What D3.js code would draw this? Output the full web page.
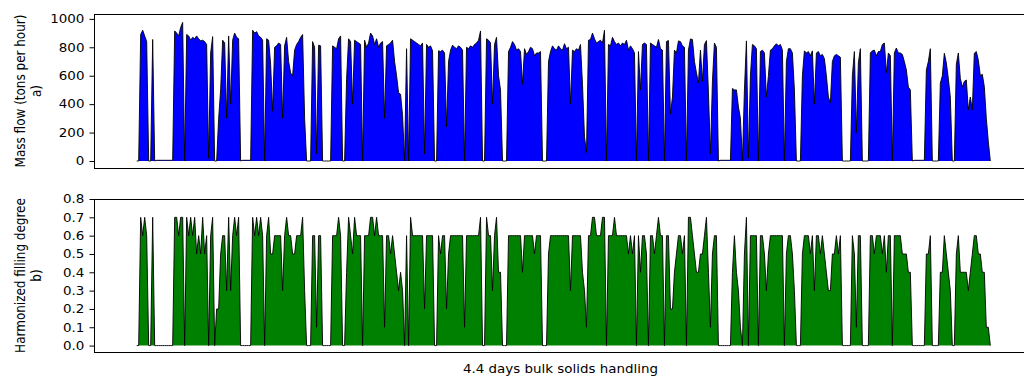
<!doctype html>
<html>
<head>
<meta charset="utf-8">
<title>Mass flow and harmonized filling degree</title>
<script src="https://cdnjs.cloudflare.com/ajax/libs/d3/7.8.5/d3.min.js"></script>
<style>
  body { margin: 0; background: #fff; }
  svg text { font-family: "DejaVu Sans", sans-serif; fill: #000; }
</style>
</head>
<body>
<svg width="1024" height="378"></svg>
<script>
// mass flow (tons per hour), one sample per step over the 4.4 days
var massFlow = [
  0, 0, 890, 920, 880, 840, 0, 0, 855, 0,
  5, 5, 5, 5, 5, 5, 5, 5, 5, 915,
  900, 880, 940, 975, 0, 890, 880, 850, 870, 860,
  880, 860, 845, 850, 840, 820, 20, 760, 875, 0,
  0, 300, 500, 850, 830, 300, 880, 400, 850, 900,
  870, 860, 0, 5, 5, 5, 5, 5, 920, 900,
  910, 880, 870, 850, 0, 860, 850, 680, 350, 800,
  810, 830, 820, 300, 810, 870, 700, 620, 600, 780,
  820, 840, 870, 890, 300, 0, 0, 0, 840, 800,
  50, 815, 810, 0, 0, 0, 0, 0, 810, 800,
  790, 860, 880, 0, 0, 575, 860, 840, 400, 850,
  840, 830, 820, 0, 850, 800, 830, 900, 880, 820,
  860, 800, 830, 840, 300, 810, 820, 830, 850, 700,
  600, 480, 470, 320, 0, 790, 0, 860, 850, 840,
  830, 820, 810, 830, 50, 820, 800, 810, 775, 0,
  0, 775, 770, 780, 760, 240, 700, 780, 815, 800,
  790, 810, 800, 780, 0, 800, 790, 810, 800, 820,
  830, 850, 915, 0, 0, 860, 850, 830, 400, 820,
  870, 600, 500, 0, 0, 0, 770, 800, 840, 820,
  780, 790, 770, 540, 790, 750, 770, 800, 790, 740,
  760, 760, 770, 0, 0, 0, 700, 770, 810, 790,
  780, 810, 790, 780, 825, 790, 800, 400, 780, 770,
  790, 780, 820, 540, 170, 60, 850, 855, 900, 860,
  830, 840, 850, 830, 920, 0, 820, 810, 870, 840,
  820, 830, 810, 830, 820, 850, 780, 810, 790, 760,
  0, 770, 500, 820, 830, 820, 0, 830, 820, 810,
  800, 855, 790, 780, 0, 840, 848, 330, 450, 780,
  760, 845, 840, 810, 800, 0, 780, 859, 855, 700,
  620, 550, 780, 560, 820, 847, 480, 50, 560, 830,
  800, 0, 5, 5, 5, 5, 5, 5, 510, 500,
  500, 380, 300, 0, 500, 845, 20, 600, 820, 810,
  790, 0, 770, 780, 760, 450, 600, 780, 790, 810,
  825, 810, 820, 780, 0, 700, 790, 790, 760, 500,
  0, 0, 0, 600, 775, 760, 770, 740, 775, 400,
  760, 770, 740, 750, 720, 600, 450, 410, 700, 740,
  750, 740, 730, 0, 0, 0, 0, 0, 600, 770,
  200, 690, 790, 0, 0, 0, 0, 760, 775, 780,
  740, 770, 770, 820, 830, 620, 760, 740, 0, 760,
  795, 760, 760, 750, 700, 640, 520, 500, 0, 5,
  5, 5, 5, 5, 5, 640, 700, 790, 0, 0,
  0, 0, 547, 600, 758, 690, 580, 450, 0, 0,
  680, 760, 580, 520, 560, 570, 360, 450, 360, 758,
  770, 710, 600, 610, 523, 300, 136, 0
];

// harmonized filling degree, same samples
var fillDegree = [
  0, 0, 0.7, 0.6, 0.7, 0.6, 0, 0, 0.7, 0,
  0, 0, 0, 0, 0, 0, 0, 0, 0, 0.7,
  0.7, 0.6, 0.7, 0.7, 0, 0.7, 0.6, 0.7, 0.6, 0.7,
  0.5, 0.6, 0.5, 0.7, 0.5, 0.6, 0, 0.6, 0.7, 0,
  0.2, 0.2, 0.5, 0.6, 0.6, 0.3, 0.7, 0.3, 0.6, 0.7,
  0.6, 0.7, 0, 0, 0, 0, 0, 0, 0.7, 0.6,
  0.7, 0.6, 0.7, 0.6, 0, 0.6, 0.7, 0.5, 0.5, 0.6,
  0.6, 0.6, 0.6, 0.3, 0.6, 0.7, 0.6, 0.6, 0.5, 0.5,
  0.6, 0.6, 0.6, 0.7, 0.3, 0, 0, 0, 0.6, 0.6,
  0.1, 0.6, 0.6, 0, 0, 0, 0, 0, 0.6, 0.6,
  0.6, 0.7, 0.6, 0, 0, 0.4, 0.7, 0.6, 0.5, 0.7,
  0.6, 0.6, 0.6, 0, 0.6, 0.6, 0.6, 0.7, 0.7, 0.6,
  0.7, 0.6, 0.6, 0.6, 0.1, 0.6, 0.6, 0.5, 0.6, 0.5,
  0.4, 0.3, 0.4, 0.3, 0, 0.6, 0, 0.7, 0.6, 0.6,
  0.6, 0.6, 0.6, 0.6, 0.2, 0.6, 0.6, 0.6, 0.6, 0,
  0, 0.6, 0.5, 0.6, 0.6, 0.2, 0.5, 0.6, 0.6, 0.6,
  0.6, 0.6, 0.6, 0.6, 0.1, 0.6, 0.6, 0.6, 0.6, 0.6,
  0.6, 0.6, 0.7, 0, 0, 0.7, 0.6, 0.6, 0.3, 0.6,
  0.7, 0.4, 0.4, 0, 0, 0, 0.6, 0.6, 0.6, 0.6,
  0.6, 0.6, 0.6, 0.4, 0.6, 0.6, 0.6, 0.6, 0.6, 0.5,
  0.6, 0.6, 0.6, 0, 0, 0, 0.5, 0.6, 0.6, 0.6,
  0.6, 0.6, 0.6, 0.6, 0.6, 0.6, 0.6, 0.3, 0.6, 0.6,
  0.6, 0.6, 0.6, 0.4, 0.3, 0.1, 0.6, 0.6, 0.7, 0.7,
  0.6, 0.6, 0.6, 0.7, 0.7, 0, 0.6, 0.6, 0.6, 0.7,
  0.6, 0.6, 0.6, 0.6, 0.6, 0.6, 0.5, 0.6, 0.5, 0.6,
  0, 0.6, 0.4, 0.6, 0.6, 0.5, 0, 0.6, 0.6, 0.5,
  0.6, 0.7, 0.6, 0.6, 0, 0.6, 0.6, 0.2, 0.2, 0.4,
  0.5, 0.6, 0.6, 0.5, 0.6, 0, 0.7, 0.7, 0.6, 0.5,
  0.4, 0.4, 0.5, 0.5, 0.6, 0.7, 0.4, 0.1, 0.5, 0.6,
  0.6, 0, 0, 0, 0, 0, 0, 0, 0.4, 0.6,
  0.4, 0.3, 0.1, 0, 0.5, 0.7, 0, 0.6, 0.6, 0.6,
  0.6, 0, 0.6, 0.6, 0.5, 0.3, 0.5, 0.6, 0.6, 0.6,
  0.6, 0.6, 0.6, 0.6, 0, 0.5, 0.6, 0.6, 0.5, 0.3,
  0, 0, 0, 0.5, 0.6, 0.6, 0.6, 0.5, 0.6, 0.3,
  0.6, 0.6, 0.5, 0.6, 0.5, 0.4, 0.3, 0.3, 0.5, 0.5,
  0.6, 0.5, 0.6, 0, 0, 0, 0, 0, 0.6, 0.5,
  0.1, 0.6, 0.6, 0, 0, 0, 0, 0.6, 0.6, 0.5,
  0.6, 0.6, 0.6, 0.5, 0.6, 0.4, 0.6, 0.6, 0, 0.6,
  0.6, 0.6, 0.6, 0.5, 0.5, 0.5, 0.4, 0.4, 0, 0,
  0, 0, 0, 0, 0, 0.5, 0.5, 0.6, 0, 0,
  0, 0, 0.4, 0.4, 0.6, 0.5, 0.4, 0.3, 0, 0,
  0.5, 0.6, 0.4, 0.4, 0.4, 0.4, 0.3, 0.4, 0.5, 0.6,
  0.6, 0.5, 0.5, 0.4, 0.4, 0.1, 0.1, 0
];

var massTicks = [0, 200, 400, 600, 800, 1000];
var fillTicks = [0, 0.1, 0.2, 0.3, 0.4, 0.5, 0.6, 0.7, 0.8];
var massLabel = ["Mass flow (tons per hour)", "a)"];
var fillLabel = ["Harmonized filling degree", "b)"];
var xLabel = "4.4 days bulk solids handling";

var svg = d3.select("svg");
var left = 94, right = 1033;   // right spine falls just outside the picture
var stretch = "scale(1.12,1)"; // text in the reference is a bit wide

var n = massFlow.length;
var pad = 0.05 * (n - 1);
var x = d3.scaleLinear().domain([-pad, n - 1 + pad]).range([left, right]);

function drawPanel(values, yDomain, top, bottom, ticks, fmt, color, label) {
  var y = d3.scaleLinear().domain(yDomain).range([bottom, top]);
  var g = svg.append("g");

  var area = d3.area()
      .x(function(d, i) { return x(i); })
      .y0(y(0))
      .y1(function(d) { return y(d); });
  var line = d3.line()
      .x(function(d, i) { return x(i); })
      .y(function(d) { return y(d); });

  g.append("path").datum(values)
      .attr("d", area)
      .attr("fill", color);
  g.append("path").datum(values)
      .attr("d", line)
      .attr("fill", "none")
      .attr("stroke", "#000")
      .attr("stroke-width", 0.9);

  // axes frame
  g.append("rect")
      .attr("x", left + 0.5).attr("y", top + 0.5)
      .attr("width", right - left).attr("height", bottom - top)
      .attr("fill", "none")
      .attr("stroke", "#000")
      .attr("stroke-width", 1);

  var axis = d3.axisLeft(y)
      .tickValues(ticks)
      .tickFormat(fmt)
      .tickSize(5)
      .tickPadding(4)
      .tickSizeOuter(0);
  var ag = g.append("g")
      .attr("transform", "translate(" + (left + 0.5) + ",0)")
      .call(axis);
  ag.select(".domain").remove();
  ag.attr("font-size", 12).attr("font-family", "DejaVu Sans");
  ag.selectAll("line").attr("stroke", "#000");
  ag.selectAll("text").attr("transform", stretch);

  // two line y label, rotated
  var cy = (top + bottom) / 2;
  [25, 41].forEach(function(bx, k) {
    g.append("text")
        .attr("transform", "translate(" + bx + "," + cy + ") " + stretch + " rotate(-90)")
        .attr("text-anchor", "middle")
        .attr("font-size", 12)
        .text(label[k]);
  });
}

drawPanel(massFlow, [-49.25, 1034.25], 14, 168, massTicks, d3.format("d"), "#0000ff", massLabel);
drawPanel(fillDegree, [-0.035, 0.8], 199, 352, fillTicks, d3.format(".1f"), "#008000", fillLabel);

svg.append("text")
    .attr("transform", "translate(" + ((left + right) / 2 - 3) + ",373) " + stretch)
    .attr("text-anchor", "middle")
    .attr("font-size", 12)
    .text(xLabel);
</script>
</body>
</html>
